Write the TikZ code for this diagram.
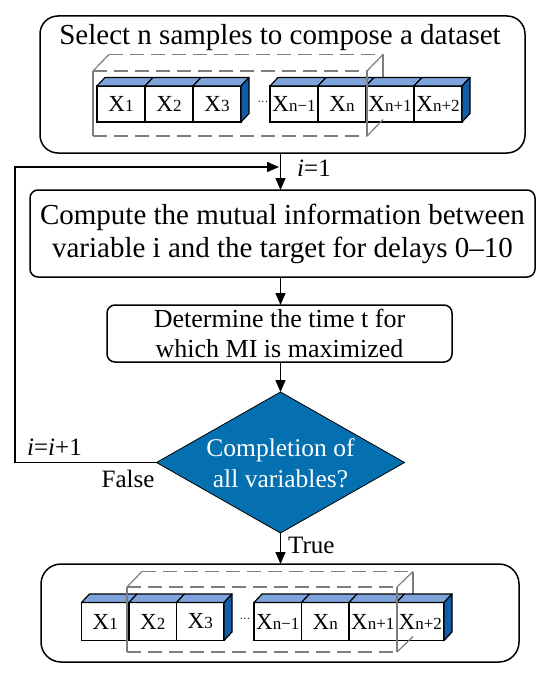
\documentclass[tikz,border=0pt]{standalone}
\usepackage{fontspec}
\setmainfont{Liberation Serif}
\usetikzlibrary{shapes.geometric,arrows.meta}
\definecolor{topblue}{RGB}{125,165,220}
\definecolor{sideblue}{RGB}{18,92,170}
\definecolor{diablue}{RGB}{5,112,176}
\definecolor{dashgray}{RGB}{125,125,125}
\newcommand\xl[1]{{\fontsize{23}{23}\selectfont X}{\fontsize{17}{17}\selectfont #1}}
\newcommand\mycube[6]{%
  \node[cubefront,minimum width=#4pt,minimum height=#5pt,anchor=north west] (#1) at (#2,#3) {#6};
  \draw[cubetop] (#1.north west) -- ++(8,-8.5) -- ++(#4,0) -- (#1.north east) -- cycle;}
\newcommand\myside[2]{%
  \draw[cubeside] (#1.north east) -- ++(8,-8.5) -- ++(0,#2) -- (#1.south east) -- cycle;}
\begin{document}
\begin{tikzpicture}[x=1pt,y=-1pt,
  roundbox/.style={draw,line width=1.5pt,outer sep=0pt,inner sep=0pt,align=center},
  cubefront/.style={draw,fill=white,line width=1.4pt,inner sep=0pt,outer sep=0pt},
  cubetop/.style={draw,fill=topblue,line width=1.2pt,line join=round},
  cubeside/.style={draw,fill=sideblue,line width=1.2pt,line join=round},
  dline/.style={draw=dashgray,line width=1.2pt,dash pattern=on 14pt off 7pt},
  sline/.style={draw=dashgray,line width=1.2pt},
  arr/.style={draw,line width=1.5pt,-{Triangle[length=12pt,width=10pt]}},
  lbl/.style={font=\fontsize{25}{30}\selectfont,inner sep=0pt}]
\useasboundingbox (0,0) rectangle (550,674);

% ---------- boxes ----------
\node[roundbox,rounded corners=18pt,minimum width=485pt,minimum height=137pt] (topbox) at (282.5,84.5) {};
\node[anchor=base,inner sep=0pt,font=\fontsize{29}{34}\selectfont] (title) at (280,45) {Select n samples to compose a dataset};

\node[roundbox,rounded corners=8pt,minimum width=505pt,minimum height=87pt,font=\fontsize{29}{33}\selectfont] (compute) at (282.5,233.5)
  {Compute the mutual information between\\variable i and the target for delays 0--10};

\node[roundbox,rounded corners=8pt,minimum width=345pt,minimum height=57pt,font=\fontsize{26}{30}\selectfont] (determine) at (279.5,333.5)
  {Determine the time t for\\which MI is maximized};

\node[diamond,draw=black,line width=0.8pt,fill=diablue,minimum width=248pt,minimum height=141pt,inner sep=0pt,outer sep=0pt] (dia) at (280.5,462.5) {};
\node[align=center,text=white,font=\fontsize{25.5}{31}\selectfont,inner sep=0pt] (diatext) at (280.5,463) {Completion of\\all variables?};

\node[roundbox,rounded corners=20pt,minimum width=478pt,minimum height=98pt] (botbox) at (280,613) {};

% ---------- top row dashed box (back) ----------
\draw[dline] (109,54.5) -- (383,54.5);
\draw[sline] (383,54.5) -- (383,119.5);

% ---------- top row cubes ----------
\mycube{ta}{97}{86}{48}{36}{\xl{1}}
\mycube{tb}{145}{86}{48}{36}{\xl{2}}
\mycube{tc}{193}{86}{48}{36}{\xl{3}}
\myside{tc}{36}
\node[inner sep=0pt,font=\fontsize{11}{11}\selectfont] (tdots) at (263,103) {···};
\mycube{td}{270}{86}{48}{36}{\xl{n−1}}
\mycube{te}{318}{86}{48}{36}{\xl{n}}
\mycube{tf}{366}{86}{48}{36}{\xl{n+1}}
\mycube{tg}{414}{86}{48}{36}{\xl{n+2}}
\myside{tg}{36}

% ---------- top row dashed box (front) ----------
\draw[dline] (93,71) -- (367,71);
\draw[dline] (93,136) -- (367,136);
\draw[sline] (93,71) -- (93,136);
\draw[sline] (367,71) -- (367,136);
\draw[sline] (93,71) -- (109,54.5);
\draw[sline] (367,71) -- (383,54.5);
\draw[sline] (367,136) -- (383,119.5);

% ---------- bottom row dashed box (back) ----------
\draw[dline] (142,571.5) -- (413,571.5);
\draw[sline] (413,571.5) -- (413,636.5);

% ---------- bottom row cubes ----------
\mycube{ba}{81.5}{602.5}{47.5}{38}{\xl{1}}
\mycube{bb}{129}{602.5}{47.5}{38}{\xl{2}}
\mycube{bc}{176.5}{602.5}{47.5}{38}{\xl{3}}
\myside{bc}{38}
\node[inner sep=0pt,font=\fontsize{11}{11}\selectfont] (bdots) at (245,620) {···};
\mycube{bd}{254}{602.5}{47.5}{38}{\xl{n−1}}
\mycube{be}{301.5}{602.5}{47.5}{38}{\xl{n}}
\mycube{bf}{349}{602.5}{47.5}{38}{\xl{n+1}}
\mycube{bg}{396.5}{602.5}{47.5}{38}{\xl{n+2}}
\myside{bg}{38}

% ---------- bottom row dashed box (front) ----------
\draw[dline] (127,587) -- (397,587);
\draw[dline] (127,652) -- (397,652);
\draw[sline] (127,587) -- (127,652);
\draw[sline] (397,587) -- (397,652);
\draw[sline] (127,587) -- (142,571.5);
\draw[sline] (397,587) -- (413,571.5);
\draw[sline] (397,652) -- (413,636.5);

% ---------- connectors ----------
\coordinate (join) at (280.5,167);
\coordinate (loopcorner) at (15,167);
\draw[arr] (topbox.south -| dia.north) -- (compute.north -| dia.north);
\draw[arr,shorten >=1.5pt] (dia.west) -| (loopcorner) -- (join);
\draw[arr] (compute.south -| dia.north) -- (determine.north -| dia.north);
\draw[arr] (determine.south -| dia.north) -- (dia.north);
\draw[arr] (dia.south) -- (botbox.north -| dia.south);

% ---------- labels ----------
\node[lbl,anchor=west] (ione) at (297,168) {\textit{i}=1};
\node[lbl,anchor=base west] (iinc) at (27,455) {\textit{i}=\textit{i}+1};
\node[lbl] (false) at (128,479) {False};
\node[lbl,anchor=west] (true) at (288,545) {True};
\end{tikzpicture}
\end{document}
